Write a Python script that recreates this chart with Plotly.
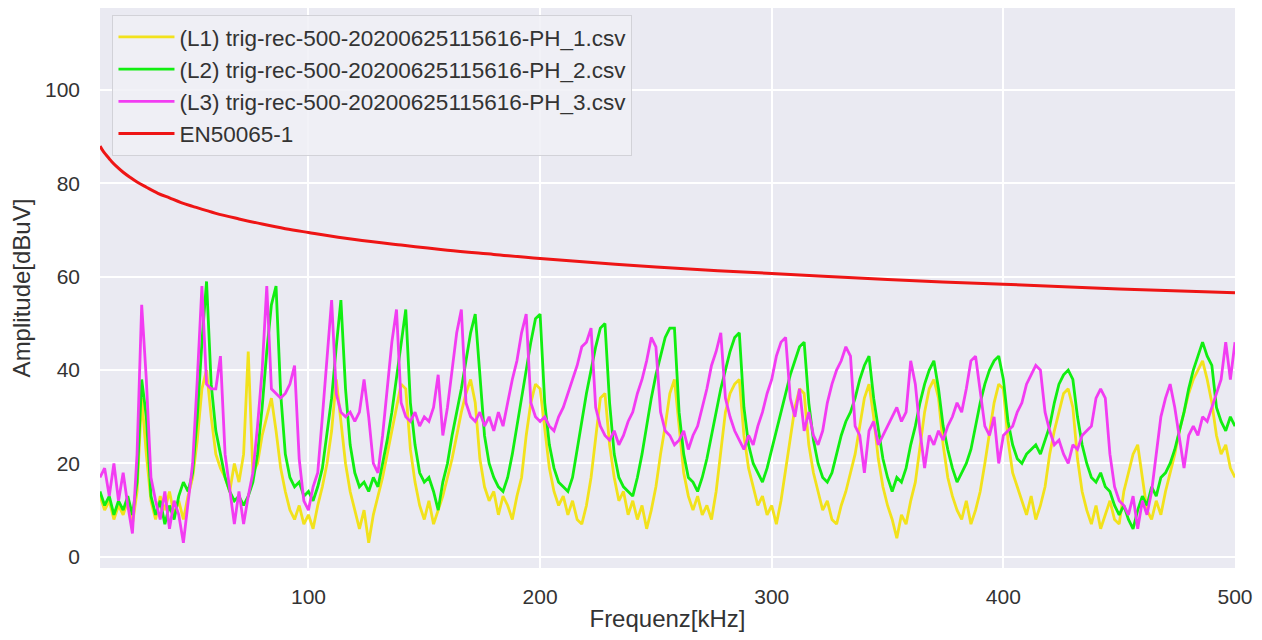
import plotly.graph_objects as go

# frequency bins (kHz), 2 kHz spacing
freq = list(range(10, 501, 2))

l1_amp = [
    13, 10, 12, 8, 11, 9, 12, 7, 14, 34, 22, 12, 8, 13, 10, 14, 9, 12, 8, 13,
    17, 25, 36, 40, 30, 22, 19, 17, 14, 20, 16, 22, 44, 18, 20, 26, 30, 34, 27, 19,
    14, 10, 8, 11, 7, 9, 6, 11, 15, 20, 27, 38, 29, 20, 14, 10, 6, 10, 3, 9,
    13, 17, 22, 27, 32, 37, 36, 23, 16, 11, 8, 12, 7, 10, 13, 17, 21, 26, 31, 35,
    38, 33, 21, 15, 12, 14, 9, 13, 11, 8, 13, 17, 26, 33, 37, 36, 27, 19, 14, 11,
    13, 9, 12, 8, 7, 11, 17, 26, 34, 35, 24, 17, 12, 14, 9, 12, 8, 11, 6, 10,
    15, 22, 28, 35, 38, 28, 18, 13, 10, 13, 9, 11, 8, 14, 23, 31, 35, 37, 38, 26,
    19, 15, 11, 13, 9, 11, 7, 12, 19, 26, 32, 36, 35, 24, 18, 14, 10, 12, 8, 7,
    11, 14, 18, 22, 28, 34, 37, 30, 21, 15, 11, 8, 4, 9, 7, 12, 16, 24, 31, 36,
    38, 34, 24, 17, 13, 10, 8, 12, 7, 10, 14, 20, 27, 33, 37, 36, 25, 18, 15, 12,
    9, 13, 8, 11, 15, 22, 27, 31, 35, 36, 32, 21, 14, 10, 7, 11, 6, 9, 12, 8,
    7, 14, 18, 22, 24, 17, 10, 8, 12, 9, 14, 18, 22, 27, 31, 35, 38, 40, 42, 38,
    33, 26, 22, 24, 19, 17,
]

l2_amp = [
    14, 11, 13, 9, 12, 10, 13, 9, 16, 38, 30, 13, 9, 12, 7, 11, 8, 13, 16, 14,
    18, 30, 46, 59, 37, 27, 22, 17, 14, 12, 13, 11, 13, 16, 22, 32, 44, 54, 58, 35,
    22, 17, 15, 16, 13, 14, 12, 15, 19, 26, 34, 45, 55, 36, 24, 18, 15, 16, 14, 17,
    15, 20, 25, 31, 38, 46, 53, 33, 24, 18, 16, 17, 14, 10, 16, 20, 26, 31, 36, 42,
    48, 52, 38, 26, 20, 17, 15, 14, 17, 22, 28, 34, 40, 46, 51, 52, 33, 24, 19, 16,
    15, 14, 17, 23, 29, 35, 40, 45, 49, 50, 33, 22, 17, 15, 14, 13, 17, 22, 28, 34,
    39, 43, 47, 49, 49, 31, 22, 17, 16, 14, 17, 21, 26, 31, 36, 40, 44, 47, 48, 32,
    24, 20, 18, 16, 19, 23, 27, 31, 35, 39, 42, 45, 46, 33, 25, 20, 17, 16, 18, 22,
    26, 29, 31, 34, 38, 41, 43, 34, 27, 21, 17, 14, 17, 16, 19, 24, 28, 33, 37, 40,
    42, 36, 28, 23, 19, 16, 18, 20, 23, 28, 33, 37, 40, 42, 43, 38, 29, 24, 21, 20,
    22, 23, 24, 22, 25, 28, 33, 37, 39, 40, 38, 30, 24, 20, 17, 16, 18, 15, 14, 11,
    9, 11, 8, 6, 10, 13, 11, 15, 13, 17, 18, 20, 23, 27, 31, 36, 40, 43, 46, 43,
    41, 32, 29, 27, 30, 28,
]

l3_amp = [
    17, 19, 13, 20, 12, 18, 11, 5, 22, 54, 38, 17, 12, 8, 14, 6, 12, 9, 3, 12,
    20, 38, 58, 37, 36, 36, 43, 22, 15, 7, 14, 7, 13, 18, 28, 40, 58, 36, 35, 34,
    35, 37, 41, 21, 12, 10, 15, 18, 30, 42, 55, 35, 31, 30, 31, 29, 31, 38, 30, 20,
    18, 26, 36, 46, 53, 33, 30, 29, 31, 28, 30, 29, 32, 39, 26, 32, 40, 48, 53, 33,
    30, 29, 31, 28, 30, 27, 31, 28, 33, 38, 42, 48, 52, 33, 30, 29, 30, 28, 27, 30,
    32, 35, 38, 41, 45, 46, 49, 32, 28, 26, 25, 27, 24, 26, 29, 31, 35, 38, 42, 47,
    45, 31, 27, 26, 24, 25, 27, 23, 26, 28, 32, 36, 41, 44, 48, 34, 30, 27, 25, 23,
    26, 24, 28, 31, 35, 38, 43, 46, 47, 34, 30, 36, 27, 31, 26, 24, 27, 33, 37, 40,
    42, 45, 43, 28, 26, 18, 27, 29, 24, 26, 28, 30, 32, 29, 31, 42, 37, 27, 19, 26,
    24, 27, 25, 28, 30, 33, 31, 36, 42, 43, 35, 28, 26, 30, 20, 26, 27, 28, 31, 33,
    37, 39, 41, 40, 31, 27, 24, 25, 22, 20, 24, 23, 26, 27, 28, 34, 36, 34, 22, 15,
    12, 11, 9, 13, 6, 12, 9, 14, 22, 30, 34, 37, 32, 25, 19, 26, 28, 26, 30, 29,
    32, 35, 38, 46, 38, 46,
]

# EN50065-1 limit line
limit_freq = [10, 11, 12, 13, 14, 15, 17, 20, 23, 26, 30, 35, 40, 45, 50, 60, 70, 80, 90,
              100, 120, 140, 160, 180, 200, 250, 300, 350, 400, 450, 500]
limit_amp = [88.0, 87.2, 86.5, 85.9, 85.3, 84.7, 83.7, 82.4, 81.3, 80.3, 79.2, 77.9, 76.9,
             75.9, 75.1, 73.6, 72.4, 71.3, 70.3, 69.5, 68.0, 66.8, 65.7, 64.8, 63.9, 62.1,
             60.7, 59.4, 58.4, 57.4, 56.6]

names = [
    "(L1) trig-rec-500-20200625115616-PH_1.csv",
    "(L2) trig-rec-500-20200625115616-PH_2.csv",
    "(L3) trig-rec-500-20200625115616-PH_3.csv",
    "EN50065-1",
]
colors = ["#F2E21C", "#11EE11", "#F23CF2", "#EE1515"]

fig = go.Figure()
for i, amp in enumerate([l1_amp, l2_amp, l3_amp]):
    fig.add_trace(go.Scatter(x=freq, y=amp, mode="lines", name=names[i],
                             line=dict(color=colors[i], width=2.8)))
fig.add_trace(go.Scatter(x=limit_freq, y=limit_amp, mode="lines", name=names[3],
                         line=dict(color=colors[3], width=3, shape="spline")))

# page body adds an 8px offset, so the figure is a bit smaller than the window
fig.update_layout(
    width=1246, height=624,
    margin=dict(l=92, r=19, t=0, b=64, autoexpand=False),
    paper_bgcolor="white", plot_bgcolor="#EAEAF2",
    font=dict(family="Liberation Sans, Arial", size=21, color="#333333"),
    showlegend=True,
    legend=dict(x=0.011, y=0.988, xanchor="left", yanchor="top",
                bgcolor="rgba(240,240,246,0.85)", bordercolor="#D2D2D8", borderwidth=1,
                itemwidth=56,
                font=dict(size=22.5, color="#333333")),
)
fig.update_xaxes(range=[10, 500], tickvals=[100, 200, 300, 400, 500],
                 showgrid=True, gridcolor="white", gridwidth=1.5,
                 zeroline=False, showline=False, ticks="", ticklabelstandoff=14,
                 title=dict(text="Frequenz[kHz]", font=dict(size=24), standoff=24))
fig.update_yaxes(range=[-2.4, 117.6], tickvals=[0, 20, 40, 60, 80, 100],
                 showgrid=True, gridcolor="white", gridwidth=1.5,
                 zeroline=False, showline=False, ticks="", ticklabelstandoff=19,
                 title=dict(text="Amplitude[dBuV]", font=dict(size=24), standoff=10))

fig.write_html("out.html")
